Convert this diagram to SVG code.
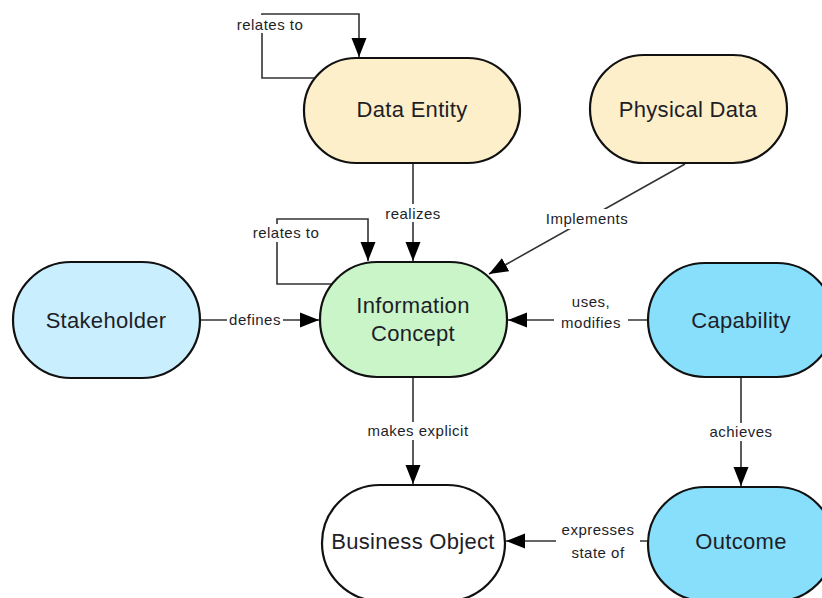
<svg xmlns="http://www.w3.org/2000/svg" width="822" height="598" viewBox="0 0 822 598">
  <style>
    .node { stroke: #111; stroke-width: 2.2; }
    .name { font-family: "Liberation Sans", Arial, sans-serif; font-size: 22px; fill: #1e1e28; text-anchor: middle; letter-spacing: 0.3px; }
    .edge { fill: none; stroke: #333; stroke-width: 1.6; }
    .lbl { font-family: "Liberation Sans", Arial, sans-serif; font-size: 15px; fill: #1e1e28; text-anchor: middle; letter-spacing: 0.5px; }
    .lblbg { fill: #fff; }
  </style>
  <defs>
    <marker id="arrow" markerUnits="userSpaceOnUse" markerWidth="20" markerHeight="16" refX="19" refY="8" orient="auto">
      <path d="M0,0.5 L19,8 L0,15.5 z" fill="#000"/>
    </marker>
  </defs>
  <rect width="822" height="598" fill="#fff"/>

  <!-- connectors -->
  <g id="connectors">
    <!-- Data Entity relates to itself -->
    <path class="edge" d="M316,78 H262 V14 H359 V57" marker-end="url(#arrow)"/>
    <rect class="lblbg" x="230" y="15" width="80" height="18"/>
    <text class="lbl" x="270" y="30">relates to</text>

    <!-- Information Concept relates to itself -->
    <path class="edge" d="M332,284 H277 V219 H368 V261" marker-end="url(#arrow)"/>
    <rect class="lblbg" x="246" y="224" width="80" height="18"/>
    <text class="lbl" x="286" y="238">relates to</text>

    <!-- realizes -->
    <path class="edge" d="M413,163 V261" marker-end="url(#arrow)"/>
    <rect class="lblbg" x="381" y="204" width="64" height="18"/>
    <text class="lbl" x="413" y="219">realizes</text>

    <!-- Implements -->
    <path class="edge" d="M685,164 L489,274" marker-end="url(#arrow)"/>
    <rect class="lblbg" x="543" y="209" width="90" height="20"/>
    <text class="lbl" x="587" y="224">Implements</text>

    <!-- defines -->
    <path class="edge" d="M200,320 H319" marker-end="url(#arrow)"/>
    <rect class="lblbg" x="227" y="312" width="56" height="17"/>
    <text class="lbl" x="255" y="325">defines</text>

    <!-- uses, modifies -->
    <path class="edge" d="M648,320 H508" marker-end="url(#arrow)"/>
    <rect class="lblbg" x="554" y="293" width="74" height="39"/>
    <text class="lbl" x="591" y="307">uses,</text>
    <text class="lbl" x="591" y="328">modifies</text>

    <!-- makes explicit -->
    <path class="edge" d="M413,377 V484" marker-end="url(#arrow)"/>
    <rect class="lblbg" x="362" y="422" width="112" height="18"/>
    <text class="lbl" x="418" y="436">makes explicit</text>

    <!-- achieves -->
    <path class="edge" d="M741,377 V486" marker-end="url(#arrow)"/>
    <rect class="lblbg" x="706" y="423" width="70" height="18"/>
    <text class="lbl" x="741" y="437">achieves</text>

    <!-- expresses state of -->
    <path class="edge" d="M648,541 H506" marker-end="url(#arrow)"/>
    <rect class="lblbg" x="556" y="519" width="84" height="44"/>
    <text class="lbl" x="598" y="535">expresses</text>
    <text class="lbl" x="598" y="558">state of</text>
  </g>

  <!-- nodes -->
  <g id="data-entity">
    <rect class="node" x="304" y="58" width="216" height="105" rx="52" ry="52" fill="#fdefc9"/>
    <text class="name" x="412" y="117">Data Entity</text>
  </g>
  <g id="physical-data">
    <rect class="node" x="590" y="55" width="197" height="108" rx="54" ry="54" fill="#fdefc9"/>
    <text class="name" x="688" y="117">Physical Data</text>
  </g>
  <g id="stakeholder">
    <rect class="node" x="13" y="262" width="187" height="116" rx="58" ry="58" fill="#c9eefd"/>
    <text class="name" x="106" y="328">Stakeholder</text>
  </g>
  <g id="information-concept">
    <rect class="node" x="320" y="262" width="187" height="115" rx="57" ry="57" fill="#c9f5c9"/>
    <text class="name" x="413" y="313">Information</text>
    <text class="name" x="413" y="341">Concept</text>
  </g>
  <g id="capability">
    <rect class="node" x="648" y="263" width="186" height="114" rx="57" ry="57" fill="#88dffc"/>
    <text class="name" x="741" y="328">Capability</text>
  </g>
  <g id="business-object">
    <rect class="node" x="322" y="485" width="183" height="116" rx="58" ry="58" fill="#ffffff"/>
    <text class="name" x="413" y="549">Business Object</text>
  </g>
  <g id="outcome">
    <rect class="node" x="648" y="487" width="186" height="114" rx="57" ry="57" fill="#88dffc"/>
    <text class="name" x="741" y="549">Outcome</text>
  </g>
</svg>
